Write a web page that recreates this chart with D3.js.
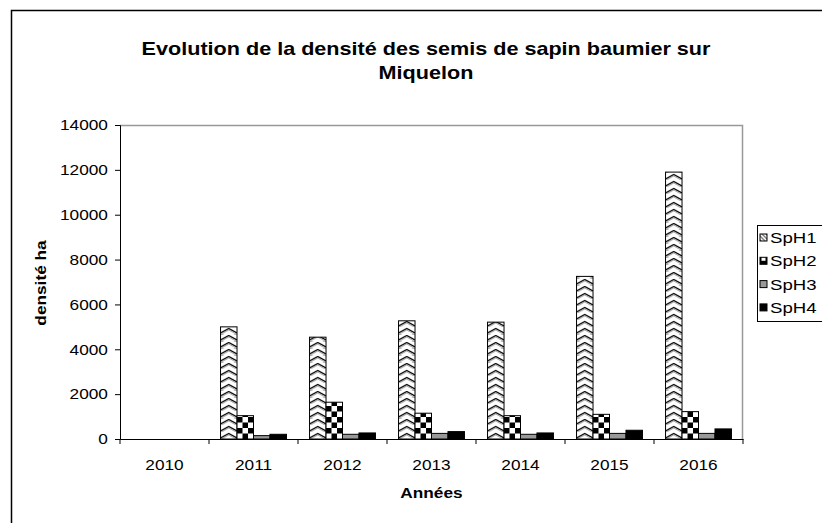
<!DOCTYPE html>
<meta charset="utf-8">
<head>
    <script src="https://d3js.org/d3.v7.min.js"></script>
    <style>
        body { margin: 0; background: #fff; font-family: Arial, "Liberation Sans", Helvetica, sans-serif; }
        svg { display: block; }
    </style>
</head>
<body>
<svg></svg>
<script>
    // Data
    var years = ["2010", "2011", "2012", "2013", "2014", "2015", "2016"];
    var seriesNames = ["SpH1", "SpH2", "SpH3", "SpH4"];
    var sph1 = [0, 5000, 4540, 5270, 5210, 7250, 11900];
    var sph2 = [0, 1040, 1640, 1150, 1040, 1100, 1220];
    var sph3 = [0, 150, 210, 250, 210, 250, 250];
    var sph4 = [0, 210, 270, 330, 270, 390, 450];
    var yTicks = [0, 2000, 4000, 6000, 8000, 10000, 12000, 14000];

    var series = [sph1, sph2, sph3, sph4];

    var width = 822, height = 523;
    var plot = { left: 120, top: 125, right: 743, bottom: 439 };
    var font = "Arial, 'Liberation Sans', sans-serif";
    var stretch = 1.15; // the reference text is drawn a bit wide

    var svg = d3.select("svg").attr("width", width).attr("height", height);

    // Patterns
    var defs = svg.append("defs");
    var zig = defs.append("pattern").attr("id", "p1")
        .attr("patternUnits", "userSpaceOnUse")
        .attr("width", 16.5).attr("height", 7);
    zig.append("rect").attr("width", 16.5).attr("height", 7).attr("fill", "#fff");
    zig.append("path").attr("d", "M0,6 L8.25,1.5 L16.5,6")
        .attr("fill", "none").attr("stroke", "#000").attr("stroke-width", 1.3);
    zig.append("path").attr("d", "M0,7.5 L8.25,3 L16.5,7.5")
        .attr("fill", "none").attr("stroke", "#888").attr("stroke-width", 0.8);

    var chk = defs.append("pattern").attr("id", "p2")
        .attr("patternUnits", "userSpaceOnUse")
        .attr("width", 11).attr("height", 11);
    chk.append("rect").attr("width", 11).attr("height", 11).attr("fill", "#fff");
    chk.append("rect").attr("x", 0).attr("y", 0).attr("width", 5.5).attr("height", 5.5).attr("fill", "#000");
    chk.append("rect").attr("x", 5.5).attr("y", 5.5).attr("width", 5.5).attr("height", 5.5).attr("fill", "#000");

    var fills = ["url(#p1)", "url(#p2)", "#999999", "#000000"];
    var legendFills = ["url(#lp1)", "url(#lp2)", "#999999", "#000000"];

    // small legend patterns
    var lp1 = defs.append("pattern").attr("id", "lp1").attr("patternUnits", "userSpaceOnUse")
        .attr("width", 4).attr("height", 4);
    lp1.append("rect").attr("width", 4).attr("height", 4).attr("fill", "#fff");
    lp1.append("path").attr("d", "M0,0 L4,4").attr("stroke", "#000").attr("stroke-width", 1);
    var lp2 = defs.append("pattern").attr("id", "lp2").attr("patternUnits", "userSpaceOnUse")
        .attr("width", 8).attr("height", 8);
    lp2.append("rect").attr("width", 8).attr("height", 8).attr("fill", "#000");
    lp2.append("rect").attr("x", 4).attr("y", 4).attr("width", 4).attr("height", 4).attr("fill", "#fff");

    // Outer chart border
    svg.append("rect")
        .attr("x", 11.5).attr("y", 10.5)
        .attr("width", 840).attr("height", 540)
        .attr("fill", "none").attr("stroke", "#000").attr("stroke-width", 1.5);

    // Scales
    var x = d3.scaleBand().domain(years).range([plot.left, plot.right]);
    var inner = d3.scaleBand().domain(seriesNames)
        .range([0, x.bandwidth()]).paddingInner(0).paddingOuter(0.7);
    var y = d3.scaleLinear().domain([0, 14000]).range([plot.bottom, plot.top]);

    // Plot area border (grey top and right)
    svg.append("path")
        .attr("d", "M" + plot.left + "," + (plot.top + 0.5) + " H" + (plot.right - 0.5) + " V" + plot.bottom)
        .attr("fill", "none").attr("stroke", "#999").attr("stroke-width", 1.5);

    // Bars
    var bars = svg.append("g");
    series.forEach(function (vals, si) {
        bars.selectAll(null)
            .data(vals.map(function (v, i) { return { year: years[i], v: v }; }))
            .enter()
            .filter(function (d) { return d.v > 0; })
            .append("g")
            .attr("transform", function (d) {
                return "translate(" + (x(d.year) + inner(seriesNames[si])) + "," + plot.bottom + ")";
            })
            .append("rect")
            .attr("x", 0)
            .attr("y", function (d) { return y(d.v) - plot.bottom; })
            .attr("width", inner.bandwidth())
            .attr("height", function (d) { return plot.bottom - y(d.v); })
            .attr("fill", fills[si])
            .attr("stroke", "#000")
            .attr("stroke-width", 1);
    });

    // Y axis
    var yAxis = svg.append("g")
        .attr("transform", "translate(" + plot.left + ",0)")
        .call(d3.axisLeft(y).tickValues(yTicks).tickSize(5).tickPadding(5.5).tickFormat(d3.format("d")));
    yAxis.select(".domain").attr("stroke", "#000");
    yAxis.selectAll(".tick line").attr("stroke", "#000");
    yAxis.selectAll("text")
        .attr("font-size", 15).attr("font-family", font).attr("fill", "#000")
        .attr("transform", "scale(" + stretch + ",1)");

    // X axis
    var xAxis = svg.append("g")
        .attr("transform", "translate(0," + plot.bottom + ")")
        .call(d3.axisBottom(x).tickSize(0).tickPadding(20));
    xAxis.select(".domain").attr("stroke", "#000");
    xAxis.selectAll("text")
        .attr("font-size", 15).attr("font-family", font).attr("fill", "#000")
        .attr("transform", "scale(" + stretch + ",1)");
    // category separator ticks
    xAxis.selectAll(".sep")
        .data(years.concat(["end"]))
        .enter().append("line")
        .attr("x1", function (d, i) { return plot.left + i * x.step(); })
        .attr("x2", function (d, i) { return plot.left + i * x.step(); })
        .attr("y1", 0).attr("y2", 5)
        .attr("stroke", "#000");

    // Titles
    var title = svg.append("text")
        .attr("transform", "translate(426,55) scale(1.2,1)")
        .attr("text-anchor", "middle")
        .attr("font-size", 18).attr("font-weight", "bold");
    title.append("tspan").attr("x", 0).text("Evolution de la densité des semis de sapin baumier sur");
    title.append("tspan").attr("x", 0).attr("dy", 24).text("Miquelon");

    svg.append("text")
        .attr("transform", "translate(46," + 283 + ")rotate(-90)scale(" + stretch + ",1)")
        .attr("text-anchor", "middle")
        .attr("font-size", 15).attr("font-weight", "bold")
        .text("densité ha");

    svg.append("text")
        .attr("transform", "translate(" + ((plot.left + plot.right) / 2) + ",498)scale(" + stretch + ",1)")
        .attr("text-anchor", "middle")
        .attr("font-size", 15).attr("font-weight", "bold")
        .text("Années");

    // Legend
    var legend = svg.append("g").attr("transform", "translate(757.5,225.5)");
    legend.append("rect")
        .attr("width", 80).attr("height", 96)
        .attr("fill", "#fff").attr("stroke", "#000").attr("stroke-width", 1);
    var items = legend.selectAll(".item")
        .data(seriesNames)
        .enter().append("g")
        .attr("transform", function (d, i) { return "translate(0," + (12 + i * 23.3) + ")"; });
    items.append("rect")
        .attr("x", 2.5).attr("y", -3.5)
        .attr("width", 7).attr("height", 7)
        .attr("fill", function (d, i) { return legendFills[i]; })
        .attr("stroke", "#000").attr("stroke-width", 1);
    items.append("text")
        .attr("transform", "translate(12.5,5.5)scale(1.2,1)")
        .attr("font-size", 15.5)
        .text(function (d) { return d; });
</script>
</body>
